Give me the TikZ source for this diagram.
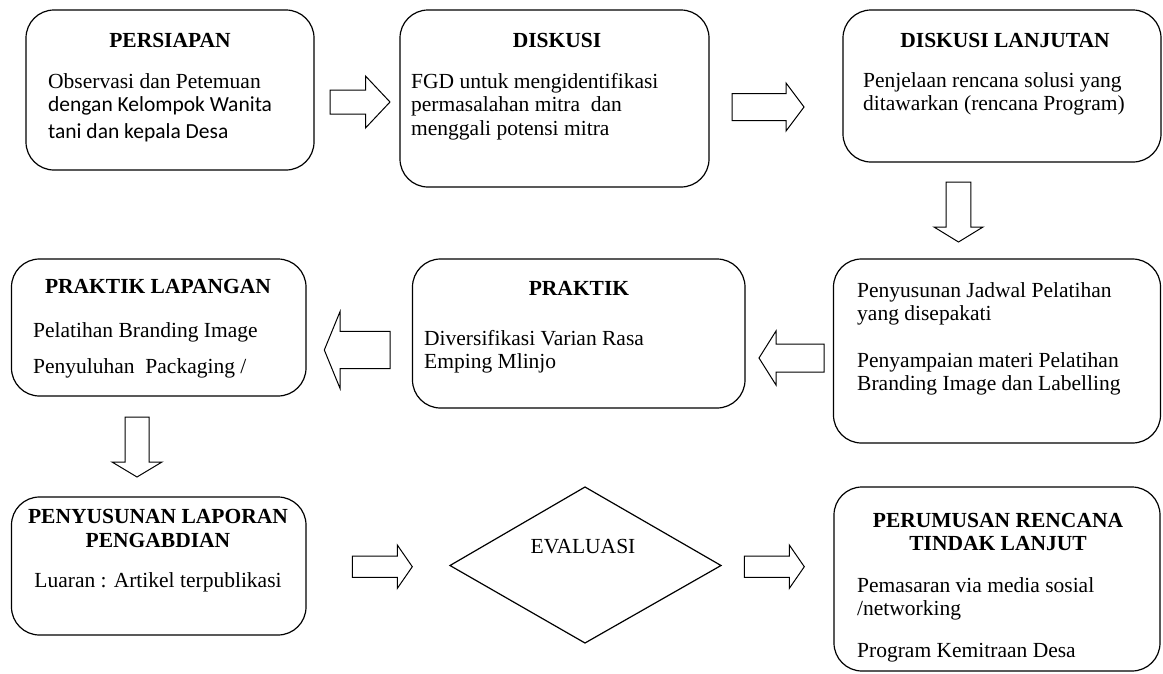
\documentclass[tikz,border=0pt]{standalone}
\usepackage{fontspec}
\setmainfont{Liberation Serif}
\newfontfamily\calibrifont{Carlito}
\newcommand\bodyfont{\fontsize{21.5}{25}\selectfont}
\newcommand\harrow[6]{\draw[barrow] (#1,-#4+#5) -- (#2,-#4+#5) -- (#2,-#4+#6) -- (#3,-#4) -- (#2,-#4-#6) -- (#2,-#4-#5) -- (#1,-#4-#5) -- cycle;}
\newcommand\varrow[6]{\draw[barrow] (#1-#5,-#2) -- (#1-#5,-#3) -- (#1-#6,-#3) -- (#1,-#4) -- (#1+#6,-#3) -- (#1+#5,-#3) -- (#1+#5,-#2) -- cycle;}
\begin{document}
\begin{tikzpicture}[x=1pt,y=1pt,
  box/.style={draw, line width=1.2pt, rounded corners=28pt, inner sep=0pt, outer sep=0pt},
  barrow/.style={draw, line width=1pt, line join=miter},
  txt/.style={inner sep=0pt, anchor=base west, font=\bodyfont},
  ctxt/.style={inner sep=0pt, anchor=base, font=\bodyfont},
  ttl/.style={inner sep=0pt, anchor=base, font=\bodyfont\bfseries}]
\useasboundingbox (0,0) rectangle (1163,-673);
% boxes
\node[box, minimum width=288pt, minimum height=160pt] (b1) at (170,-90) {};
\node[box, minimum width=309pt, minimum height=177pt] (b2) at (554.5,-98.5) {};
\node[box, minimum width=318pt, minimum height=152pt] (b3) at (1002,-86) {};
\node[box, minimum width=294.5pt, minimum height=137pt] (b4) at (158.75,-327.5) {};
\node[box, minimum width=332.5pt, minimum height=149pt] (b5) at (578.75,-333.5) {};
\node[box, minimum width=327pt, minimum height=184pt] (b6) at (997,-351) {};
\node[box, minimum width=294.5pt, minimum height=138pt] (b7) at (158.75,-566) {};
\node[box, minimum width=326pt, minimum height=184pt] (b8) at (997,-579) {};
% diamond
\draw[line width=1.2pt, line join=miter] (450,-565.5) -- (585,-487) -- (721,-565.5) -- (585,-643) -- cycle;
\node[ctxt] (ev) at (583,-553) {EVALUASI};
% box 1
\node[ttl] (t1) at (170,-47) {PERSIAPAN};
\node[txt] (t1a) at (48,-88) {Observasi dan Petemuan};
\node[txt, font=\bodyfont\calibrifont] (t1b) at (48,-111) {dengan Kelompok Wanita};
\node[txt, font=\bodyfont\calibrifont] (t1c) at (48,-138) {tani dan kepala Desa};
% box 2
\node[ttl] (t2) at (557,-47) {DISKUSI};
\node[txt] (t2a) at (411,-88) {FGD untuk mengidentifikasi};
\node[txt] (t2b) at (411,-111) {permasalahan mitra\ \ dan};
\node[txt] (t2c) at (411,-135) {menggali potensi mitra};
% box 3
\node[ttl] (t3) at (1005,-47) {DISKUSI LANJUTAN};
\node[txt] (t3a) at (863,-87) {Penjelaan rencana solusi yang};
\node[txt] (t3b) at (863,-110) {ditawarkan (rencana Program)};
% box 4
\node[ttl] (t4) at (158,-293) {PRAKTIK LAPANGAN};
\node[txt] (t4a) at (33,-337) {Pelatihan Branding Image};
\node[txt] (t4b) at (33,-373) {Penyuluhan\ \ Packaging /};
% box 5
\node[ttl] (t5) at (579,-295) {PRAKTIK};
\node[txt] (t5a) at (424,-345) {Diversifikasi Varian Rasa};
\node[txt] (t5b) at (424,-368) {Emping Mlinjo};
% box 6
\node[txt] (t6a) at (857,-297) {Penyusunan Jadwal Pelatihan};
\node[txt] (t6b) at (857,-320) {yang disepakati};
\node[txt] (t6c) at (857,-367) {Penyampaian materi Pelatihan};
\node[txt] (t6d) at (857,-390) {Branding Image dan Labelling};
% box 7
\node[ttl] (t7) at (158,-523) {PENYUSUNAN LAPORAN};
\node[ttl] (t7b) at (158,-547) {PENGABDIAN};
\node[ctxt] (t7a) at (158,-587) {Luaran : Artikel terpublikasi};
% box 8
\node[ttl] (t8) at (998,-527) {PERUMUSAN RENCANA};
\node[ttl] (t8b) at (998,-550) {TINDAK LANJUT};
\node[txt] (t8a) at (857,-592) {Pemasaran via media sosial};
\node[txt] (t8c) at (857,-615) {/networking};
\node[txt] (t8d) at (857,-657) {Program Kemitraan Desa};
% block arrows
\harrow{330}{365.5}{390}{102}{12}{26}
\harrow{732}{786}{804}{107}{13.5}{24}
\varrow{958.5}{182}{227}{242}{12.3}{24.5}
\harrow{390}{340}{324.3}{350}{18.7}{38.3}
\harrow{824}{776}{759}{358}{14}{27}
\varrow{137}{417}{462}{477}{12}{25}
\harrow{352.3}{397.3}{412.3}{566.7}{10.7}{21.7}
\harrow{744.3}{789.3}{804.3}{566.7}{10.7}{21.7}
\end{tikzpicture}
\end{document}
